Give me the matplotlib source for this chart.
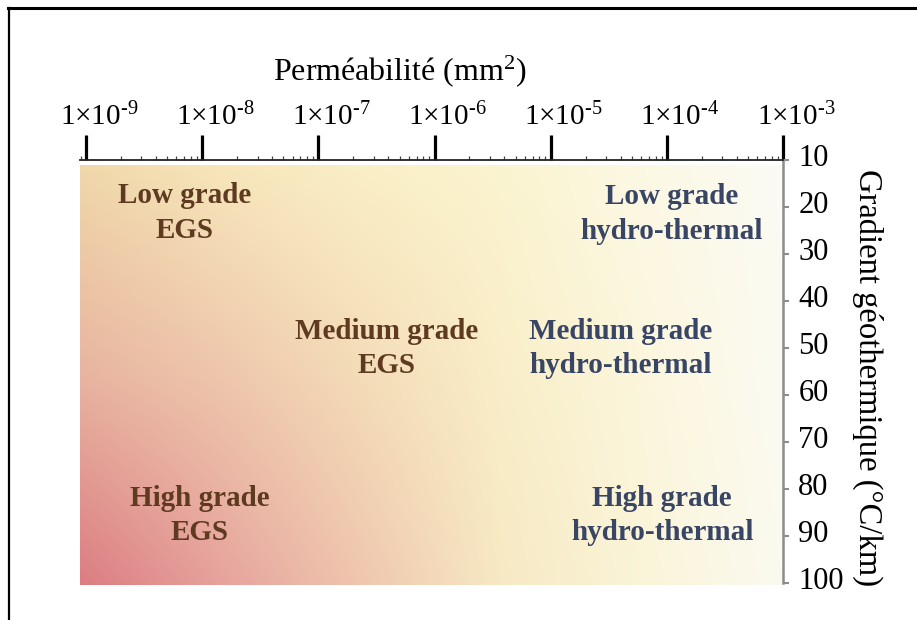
import numpy as np
import matplotlib
matplotlib.use("Agg")
import matplotlib.pyplot as plt
from matplotlib.colors import to_rgb
from matplotlib.lines import Line2D
import matplotlib.transforms as mtransforms
from matplotlib.ticker import FixedLocator, LogLocator, NullFormatter

plt.rcParams['font.family'] = ['Liberation Serif', 'DejaVu Serif']
plt.rcParams['mathtext.fontset'] = 'custom'
plt.rcParams['mathtext.rm'] = 'Liberation Serif'
plt.rcParams['mathtext.it'] = 'Liberation Serif:italic'
plt.rcParams['mathtext.bf'] = 'Liberation Serif:bold'

# ---- data ----
x_exponents = [-9, -8, -7, -6, -5, -4, -3]
x_ticklabels = [r'1×10$^{\text{-}%d}$' % (-e) for e in x_exponents]
y_ticks = [10, 20, 30, 40, 50, 60, 70, 80, 90, 100]
x_title = 'Perméabilité (mm$^{2}$)'
y_title = 'Gradient géothermique (°C/km)'

zone_labels = ['Low grade\nEGS', 'Medium grade\nEGS', 'High grade\nEGS',
               'Low grade\nhydro-thermal', 'Medium grade\nhydro-thermal',
               'High grade\nhydro-thermal']
zone_x = [10**-8.15, 10**-6.41, 10**-8.02, 10**-3.96, 10**-4.40, 10**-4.04]
zone_y = [21.3, 50.1, 85.7, 21.5, 50.1, 85.7]
zone_colors = ['#5e3a20', '#5e3a20', '#5e3a20', '#394565', '#394565', '#394565']

# background gradient control colours (rows: top, middle, bottom; columns left->right)
bg_top = ['#f0d8aa', '#f7e6ba', '#faefc6', '#fbf4d0', '#fcf8e4', '#fcfbf4']
bg_mid = ['#e8b4a0', '#eec6ac', '#f4dcb8', '#f9eec8', '#fbf6dc', '#fcfbf2']
bg_bot = ['#dc7c82', '#e6a29c', '#efc6ae', '#f7e9c4', '#faf4d8', '#fbfaf0']

W, H = 917, 620
fig = plt.figure(figsize=(W / 100, H / 100), dpi=100)

def px_box(x0, y0, x1, y1):
    return [x0 / W, 1 - y1 / H, (x1 - x0) / W, (y1 - y0) / H]

# background image axes
ax_bg = fig.add_axes(px_box(80, 165, 783, 585))
grid = np.array([[to_rgb(c) for c in row] for row in (bg_top, bg_mid, bg_bot)])
nr, nc = grid.shape[:2]
dx = 0.5 / (nc - 1)
dy = 0.5 / (nr - 1)
ax_bg.imshow(grid, extent=[-dx, 1 + dx, 1 + dy, -dy], aspect='auto',
             interpolation='bilinear')
ax_bg.set_xlim(0, 1)
ax_bg.set_ylim(1, 0)
ax_bg.axis('off')

# main axes
ax = fig.add_axes(px_box(80, 160, 783, 583))
ax.set_facecolor('none')
ax.set_xscale('log')
ax.set_xlim(10**-9.052, 1e-3)
ax.set_ylim(100, 10)

for s in ['left', 'bottom']:
    ax.spines[s].set_visible(False)
ax.spines['top'].set_linewidth(1.3)
ax.spines['top'].set_color('#222222')
ax.spines['right'].set_linewidth(1.8)
ax.spines['right'].set_color('#8c8c8c')

ax.xaxis.set_ticks_position('top')
ax.xaxis.set_label_position('top')
ax.xaxis.set_major_locator(FixedLocator([10.0**e for e in x_exponents]))
ax.set_xticklabels(x_ticklabels)
ax.xaxis.set_minor_locator(LogLocator(base=10, subs=np.arange(2, 10), numticks=20))
ax.xaxis.set_minor_formatter(NullFormatter())
ax.tick_params(axis='x', which='major', direction='out', length=18, width=2.3,
               color='black', labelsize=21, pad=3)
ax.tick_params(axis='x', which='minor', direction='out', length=3, width=0.9,
               color='#444444')

ax.yaxis.set_ticks_position('right')
ax.set_yticks(y_ticks)
ax.tick_params(axis='y', which='major', direction='out', length=4, width=1.5,
               color='#8c8c8c', labelsize=22, pad=7)
ax.tick_params(axis='y', which='minor', length=0)

# shift labels like reference
off_x = mtransforms.ScaledTranslation(13 / 100, 0, fig.dpi_scale_trans)
for lab in ax.get_xticklabels():
    lab.set_transform(lab.get_transform() + off_x)
off_y = mtransforms.ScaledTranslation(0, 5 / 100, fig.dpi_scale_trans)
for lab in ax.get_yticklabels():
    lab.set_transform(lab.get_transform() + off_y)

for lbl, x, y, c in zip(zone_labels, zone_x, zone_y, zone_colors):
    ax.text(x, y, lbl, ha='center', va='center', fontsize=21, fontweight='bold',
            color=c, linespacing=1.35)

fig.text(400 / W, 1 - 71 / H, x_title, ha='center', va='center', fontsize=23)
fig.text(868 / W, 1 - 378 / H, y_title, ha='center', va='center', fontsize=23.5,
         rotation=270)

# figure frame (top and left)
fig.add_artist(Line2D([8 / W, 1], [1 - 8 / H, 1 - 8 / H], color='black', lw=2.2,
                      transform=fig.transFigure))
fig.add_artist(Line2D([9 / W, 9 / W], [0, 1 - 8 / H], color='black', lw=1.6,
                      transform=fig.transFigure))

fig.savefig('out.png', dpi=100)
